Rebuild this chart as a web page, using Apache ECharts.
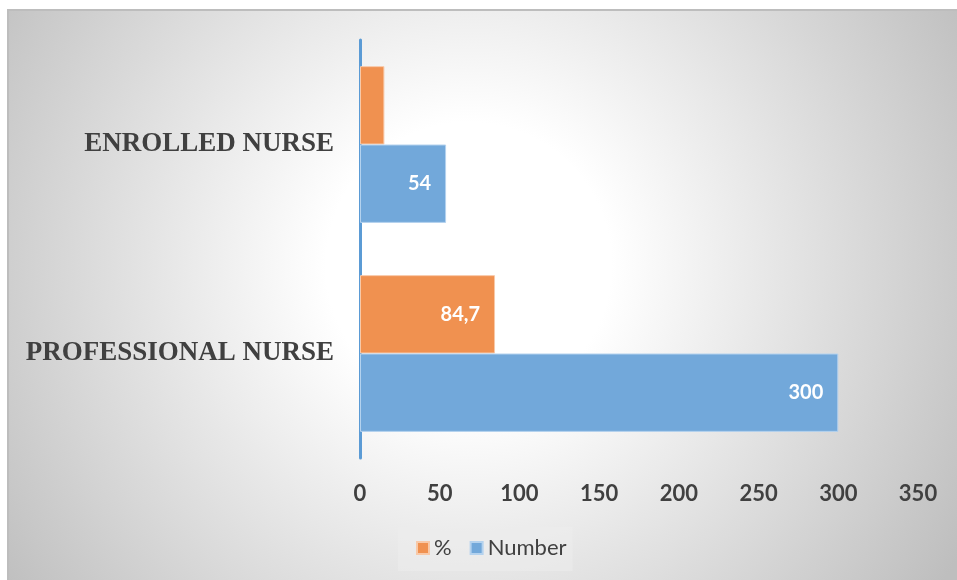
<!DOCTYPE html>
<html>
<head>
<meta charset="utf-8">
<style>
  html, body { margin: 0; padding: 0; background: #ffffff; }
  #chart { width: 957px; height: 580px; }
</style>
<script src="https://cdn.jsdelivr.net/npm/echarts@6/dist/echarts.min.js"></script>
</head>
<body>
<div id="chart"></div>
<script>
// categories bottom -> top
var categories = ['PROFESSIONAL NURSE', 'ENROLLED NURSE'];
var percentValues = [84.7, 15.3];
var numberValues = [300, 54];
// label only where the picture shows one
var percentLabelShown = [true, false];
var xTicks = [0, 50, 100, 150, 200, 250, 300, 350];

var chart = echarts.init(document.getElementById('chart'));

chart.setOption({
  animation: false,
  graphic: [
    {
      type: 'rect',
      z: -10,
      silent: true,
      shape: { x: 8, y: 10, width: 960, height: 580 },
      style: {
        fill: {
          type: 'radial',
          x: 0.48,
          y: 0.44,
          r: 0.98,
          colorStops: [
            { offset: 0, color: '#ffffff' },
            { offset: 0.25, color: '#ffffff' },
            { offset: 1, color: '#bebebe' }
          ]
        },
        stroke: '#bdbdbd',
        lineWidth: 2
      }
    }
  ],
  legend: {
    data: ['%', 'Number'],
    left: 398,
    top: 527,
    padding: [10, 6, 12, 18],
    backgroundColor: 'rgba(236,236,236,0.55)',
    itemWidth: 12,
    itemHeight: 12,
    itemGap: 18,
    icon: 'rect',
    textStyle: { fontFamily: 'Lato', fontSize: 22, color: '#404040' }
  },
  grid: {
    left: 360,
    right: 39,
    top: 40,
    bottom: 122,
    containLabel: false
  },
  xAxis: {
    type: 'value',
    min: 0,
    max: 350,
    interval: 50,
    axisLine: { show: false },
    axisTick: { show: false },
    splitLine: { show: false },
    axisLabel: {
      margin: 25,
      fontFamily: 'Lato',
      fontWeight: 'bold',
      fontSize: 22,
      color: '#404040',
      formatter: function (v) { return xTicks.indexOf(v) >= 0 ? String(v) : ''; }
    }
  },
  yAxis: {
    type: 'category',
    data: categories,
    axisLine: { show: true, lineStyle: { color: '#5b9bd5', width: 3 } },
    axisTick: { show: false },
    axisLabel: {
      margin: 26,
      fontFamily: 'Liberation Serif',
      fontWeight: 'bold',
      fontSize: 27,
      color: '#404040'
    }
  },
  series: [
    {
      name: '%',
      type: 'bar',
      data: percentValues.map(function (v, i) {
        return { value: v, label: { show: percentLabelShown[i] } };
      }),
      barGap: '0%',
      barCategoryGap: '25%',
      itemStyle: { color: '#f09150', borderColor: '#f8c9a8', borderWidth: 1 },
      label: {
        show: true,
        position: 'insideRight',
        distance: 15,
        color: '#ffffff',
        fontFamily: 'Lato',
        fontWeight: 'bold',
        fontSize: 20,
        formatter: function (p) { return String(p.value).replace('.', ','); }
      }
    },
    {
      name: 'Number',
      type: 'bar',
      data: numberValues,
      barGap: '0%',
      barCategoryGap: '25%',
      itemStyle: { color: '#72a8da', borderColor: '#b4d2ee', borderWidth: 1 },
      label: {
        show: true,
        position: 'insideRight',
        distance: 15,
        color: '#ffffff',
        fontFamily: 'Lato',
        fontWeight: 'bold',
        fontSize: 20
      }
    }
  ]
});
</script>
</body>
</html>
